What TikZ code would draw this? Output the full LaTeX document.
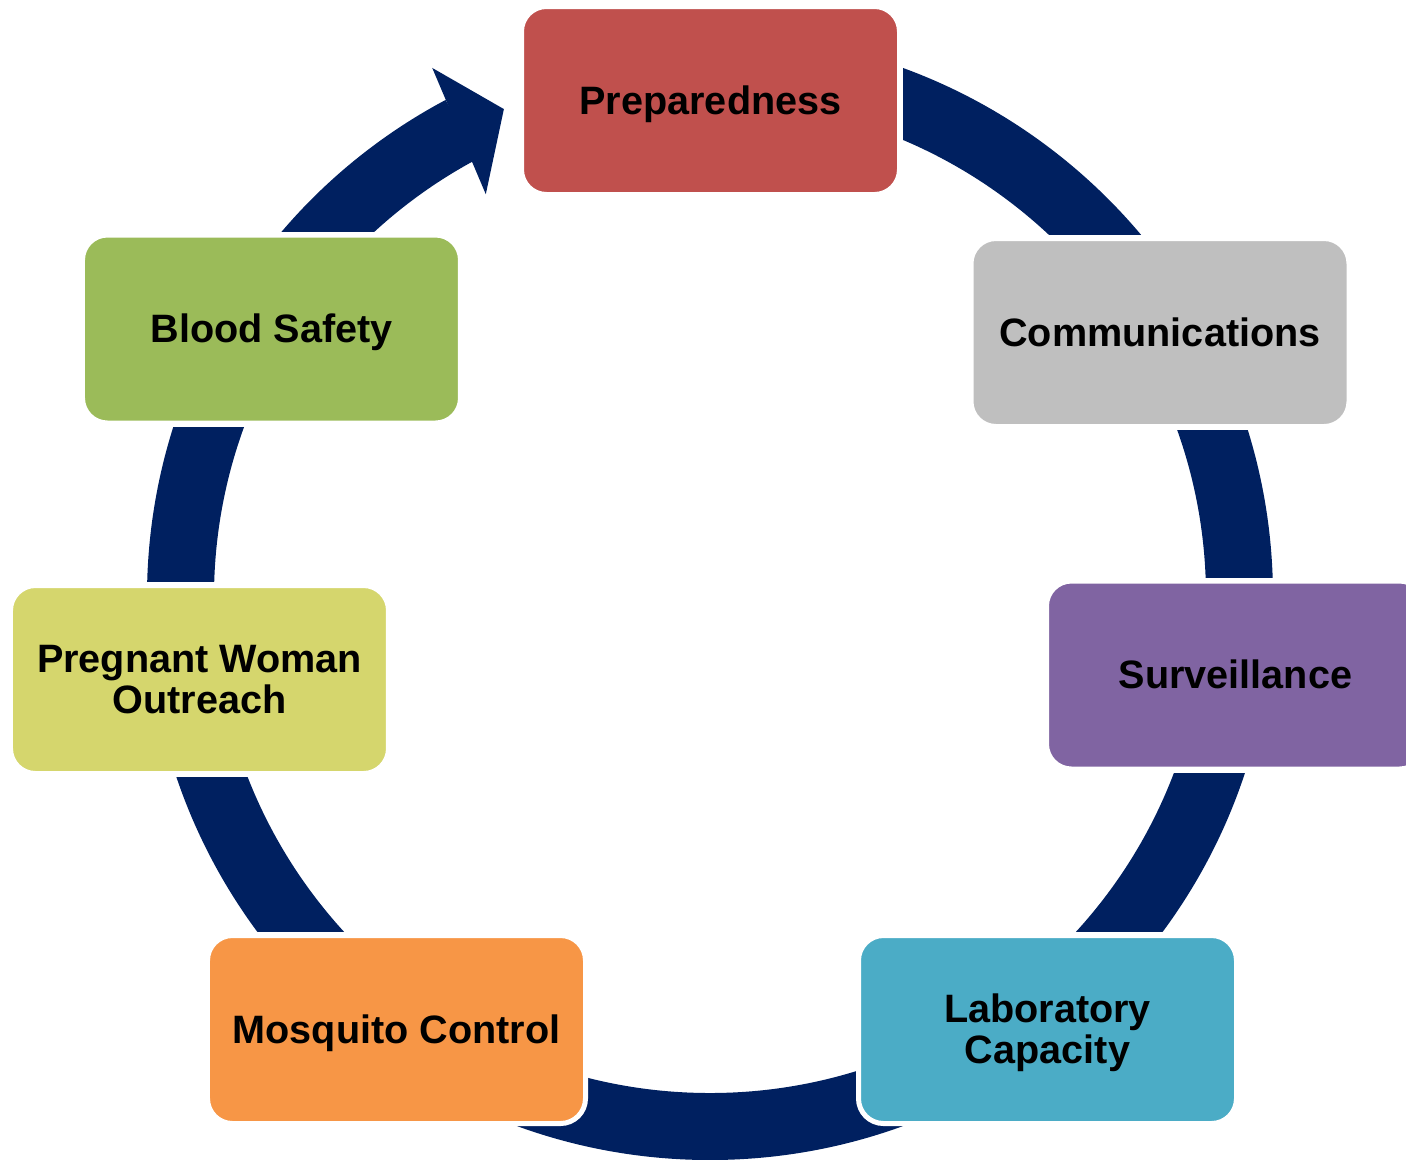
\documentclass[tikz,border=0pt]{standalone}
\usepackage{fontspec}
\setmainfont{Liberation Sans}
\usetikzlibrary{backgrounds}

\definecolor{ringblue}{HTML}{002060}
\definecolor{prepred}{HTML}{C0504D}
\definecolor{commgray}{HTML}{BFBFBF}
\definecolor{survpurple}{HTML}{8064A2}
\definecolor{labaqua}{HTML}{4BACC6}
\definecolor{mosqorange}{HTML}{F79646}
\definecolor{pregyellow}{HTML}{D5D66D}
\definecolor{bloodgreen}{HTML}{9BBB59}

% two-line label with full-height struts on first and last line
\newcommand{\twolines}[2]{\rule{0pt}{10.2pt}#1\\#2\rule[-2.4pt]{0pt}{2.4pt}}

\begin{document}
\begin{tikzpicture}
    % Define styles for the boxes and the ring
    \tikzset{
        stepbox/.style={rectangle, rounded corners=0.25cm, draw=white, line width=0.05cm,
            minimum width=3.78cm, minimum height=1.88cm, inner sep=0pt, align=center,
            font=\bfseries\fontsize{11.27}{11.8}\selectfont,
            % struts so the lines sit like full-height text lines
            execute at begin node={\rule{0pt}{10.2pt}},
            execute at end node={\rule[-2.4pt]{0pt}{2.4pt}}},
        ring/.style={draw=ringblue, line width=0.67cm},
        gap/.style={fill=white}
    }
    % origin sits at the centre of the ring
    \useasboundingbox (-7.10,5.97) rectangle (6.96,-5.62);

    % ==========================================
    % BOXES
    % ==========================================
    \node[stepbox, fill=prepred]    (prep)  at (0.005,4.965)  {Preparedness};
    \node[stepbox, fill=commgray]   (comm)  at (4.50,2.645)   {Communications};
    \node[stepbox, fill=survpurple] (surv)  at (5.255,-0.78)  {Surveillance};
    \node[stepbox, fill=labaqua]    (lab)   at (3.375,-4.325) {\twolines{Laboratory}{Capacity}};
    \node[stepbox, fill=mosqorange] (mosq)  at (-3.135,-4.325) {Mosquito Control};
    \node[stepbox, fill=pregyellow] (preg)  at (-5.105,-0.825) {\twolines{Pregnant Woman}{Outreach}};
    \node[stepbox, fill=bloodgreen] (blood) at (-4.385,2.68)  {Blood Safety};

    % ==========================================
    % RING WITH ARROW
    % ==========================================
    \begin{scope}[on background layer]
        % 1. Clockwise band from the top round to the arrow
        \draw[ring] (90:5.295) arc[start angle=90, end angle=-242, radius=5.295];
        % 2. Arrowhead pointing at the top box
        \fill[ringblue] (117.7:5.976) -- (112.9:5.297) -- (119.1:4.61) -- cycle;
        % 3. Cut the band around the boxes
        \foreach \n in {prep, comm, surv, preg, blood} {
            \fill[gap] ([shift={(-0.01,-0.01)}]\n.south west) rectangle ([shift={(0.01,0.01)}]\n.north east);
        }
        \foreach \n in {lab, mosq} {
            \fill[gap] ([shift={(-0.01,0)}]\n.west) rectangle ([shift={(0.01,0.01)}]\n.north east);
        }
    \end{scope}
\end{tikzpicture}
\end{document}
